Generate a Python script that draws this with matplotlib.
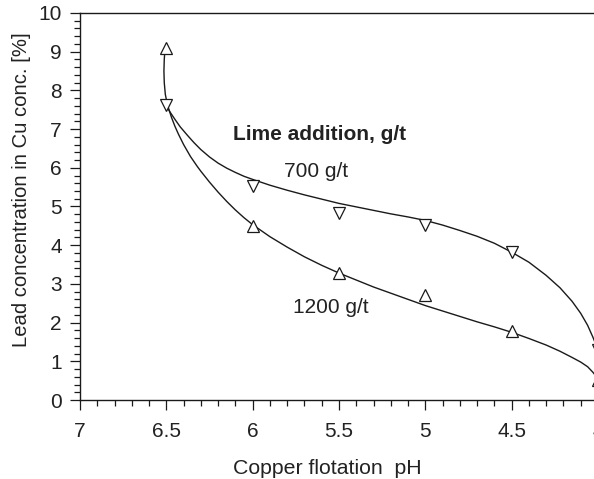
import matplotlib
matplotlib.use("Agg")
import matplotlib.pyplot as plt
from matplotlib.ticker import MultipleLocator

plt.rcParams["font.family"] = ["Liberation Sans", "DejaVu Sans"]
plt.rcParams["font.size"] = 15

# measured points
ph_700 = [6.5, 6.0, 5.5, 5.0, 4.5, 4.0]
pb_700 = [7.62, 5.53, 4.82, 4.52, 3.83, 1.29]
ph_1200 = [6.5, 6.0, 5.5, 5.0, 4.5, 4.0]
pb_1200 = [9.1, 4.5, 3.29, 2.71, 1.79, 0.52]

# fitted curves
curve_700_ph = [6.50, 6.48, 6.45, 6.42, 6.38, 6.34, 6.30, 6.25, 6.20, 6.15, 6.10,
                6.05, 6.00, 5.90, 5.80, 5.70, 5.60, 5.50, 5.40, 5.30, 5.20, 5.10,
                5.00, 4.90, 4.80, 4.70, 4.60, 4.50, 4.40, 4.30, 4.22, 4.15, 4.10,
                4.06, 4.03, 4.00]
curve_700_pb = [7.60, 7.45, 7.25, 7.06, 6.85, 6.65, 6.47, 6.28, 6.12, 5.99, 5.88,
                5.78, 5.70, 5.55, 5.42, 5.30, 5.19, 5.08, 4.99, 4.90, 4.81, 4.73,
                4.64, 4.52, 4.38, 4.23, 4.05, 3.82, 3.56, 3.22, 2.90, 2.55, 2.24,
                1.93, 1.63, 1.30]
curve_1200_ph = [6.508, 6.512, 6.514, 6.512, 6.506, 6.497, 6.488, 6.47, 6.45, 6.43,
                 6.40, 6.36, 6.32, 6.30, 6.25, 6.20, 6.15, 6.10, 6.05, 6.00, 5.90,
                 5.80, 5.70, 5.60, 5.50, 5.40, 5.30, 5.20, 5.10, 5.00, 4.90, 4.80,
                 4.70, 4.60, 4.50, 4.40, 4.30, 4.22, 4.15, 4.10, 4.06, 4.03, 4.00]
curve_1200_pb = [9.05, 8.80, 8.50, 8.20, 7.90, 7.70, 7.55, 7.30, 7.07, 6.87,
                 6.60, 6.29, 6.03, 5.91, 5.63, 5.37, 5.13, 4.91, 4.71, 4.53, 4.22,
                 3.95, 3.70, 3.48, 3.28, 3.10, 2.92, 2.76, 2.60, 2.44, 2.30, 2.16,
                 2.02, 1.89, 1.75, 1.59, 1.42, 1.26, 1.10, 0.98, 0.86, 0.72, 0.55]

fig = plt.figure(figsize=(5.94, 4.79), dpi=100)
ax = fig.add_axes([0.1347, 0.1649, 0.872, 0.808])

lc = "#1a1a1a"
ax.plot(curve_700_ph, curve_700_pb, color=lc, lw=1.0)
ax.plot(curve_1200_ph, curve_1200_pb, color=lc, lw=1.0)
ax.plot(ph_700, pb_700, ls="none", marker="v", ms=8, mfc="white",
        mec=lc, mew=0.9, zorder=3)
ax.plot(ph_1200, pb_1200, ls="none", marker="^", ms=8, mfc="white",
        mec=lc, mew=0.9, zorder=3)

ax.text(5.61, 6.85, "Lime addition, g/t", ha="center", va="center",
        fontweight="bold", color="#222222")
ax.text(5.63, 5.9, "700 g/t", ha="center", va="center", color="#222222")
ax.text(5.55, 2.38, "1200 g/t", ha="center", va="center", color="#222222")

ax.set_xlim(7, 4)
ax.set_ylim(0, 10)
ax.xaxis.set_minor_locator(MultipleLocator(0.1))
ax.yaxis.set_major_locator(MultipleLocator(1))
ax.yaxis.set_minor_locator(MultipleLocator(0.2))
ax.set_xticks([7, 6.5, 6, 5.5, 5, 4.5, 4])
ax.set_xticklabels(["7", "6.5", "6", "5.5", "5", "4.5", "4"])

ax.tick_params(which="major", direction="out", length=7, width=0.9,
               colors=lc, labelcolor="#222222")
ax.tick_params(axis="x", which="major", pad=9)
ax.tick_params(axis="y", which="major", pad=6)
ax.tick_params(which="minor", direction="out", length=4, width=0.9, colors=lc)
for s in ["left", "bottom", "top"]:
    ax.spines[s].set_linewidth(1.0)
    ax.spines[s].set_color(lc)
ax.spines["right"].set_visible(False)

ax.set_xlabel("Copper flotation  pH", color="#222222", fontsize=15.3, va="center")
ax.xaxis.set_label_coords(0.477, -0.176)
ax.set_ylabel("Lead concentration in Cu conc. [%]", color="#222222",
              fontsize=14.6, va="center")
ax.yaxis.set_label_coords(-0.112, 0.543)

fig.savefig("out.png", dpi=100, facecolor="white")
